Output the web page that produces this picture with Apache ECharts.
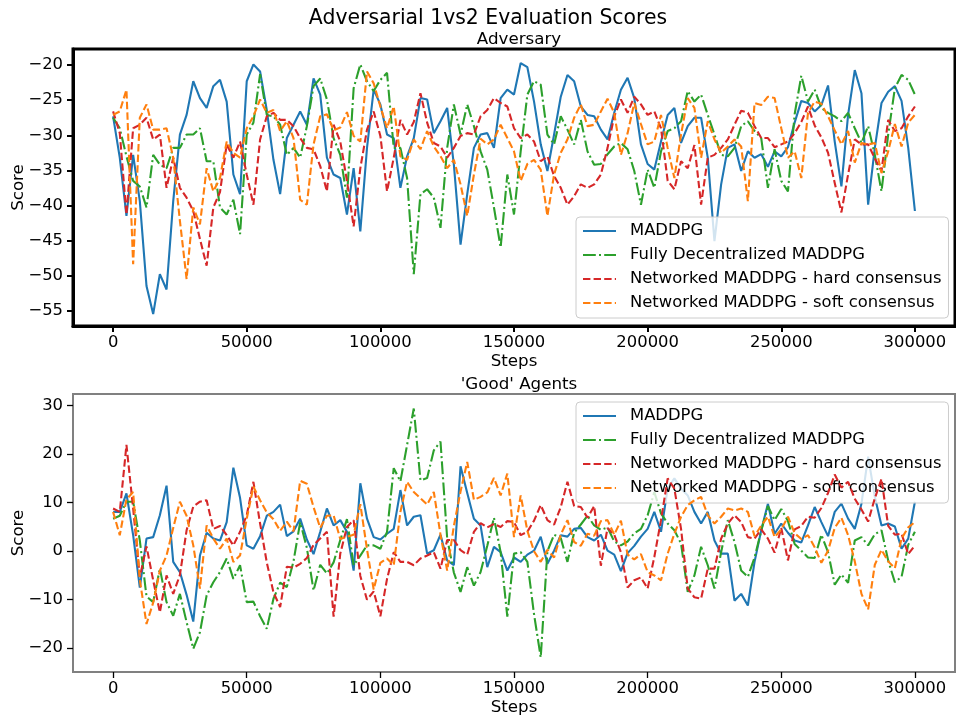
<!DOCTYPE html>
<html>
<head>
<meta charset="utf-8">
<script src="https://cdn.jsdelivr.net/npm/echarts@6/dist/echarts.min.js"></script>
<style>html,body{margin:0;padding:0;background:#fff}#c{width:956px;height:721px}</style>
</head>
<body>
<div id="c"></div>
<script>
const seriesNames = ['MADDPG', 'Fully Decentralized MADDPG', 'Networked MADDPG - hard consensus', 'Networked MADDPG - soft consensus'];
const xTicks = [0, 50000, 100000, 150000, 200000, 250000, 300000];
const advTicks = [-55, -50, -45, -40, -35, -30, -25, -20];
const goodTicks = [-20, -10, 0, 10, 20, 30];
const stepSize = 2500;

const advMaddpg = [
-27.3,-33.2,-41.5,-32.8,-39.4,-51.5,-55.5,-49.8,-52.0,-39.4,
-29.9,-27.1,-22.3,-24.7,-26.1,-23.0,-22.1,-25.2,-35.6,-38.4,
-22.3,-19.9,-20.9,-26.4,-33.5,-38.4,-30.4,-28.5,-26.6,-28.5,
-21.9,-24.2,-33.2,-35.6,-36.1,-41.3,-34.7,-43.7,-31.8,-23.5,
-25.6,-29.9,-30.4,-37.5,-33.0,-30.4,-24.7,-24.9,-29.7,-28.0,
-26.1,-34.2,-45.6,-38.4,-31.8,-29.9,-29.7,-31.8,-24.7,-23.5,
-24.2,-19.7,-20.3,-25.2,-31.3,-35.1,-29.9,-24.5,-21.4,-22.3,
-25.9,-27.1,-27.3,-29.2,-30.6,-26.8,-23.5,-21.8,-24.7,-31.3,
-34.1,-34.9,-30.9,-27.1,-26.1,-31.1,-28.7,-27.5,-27.5,-33.2,
-45.1,-37.0,-31.8,-31.3,-35.1,-32.3,-33.2,-32.7,-34.5,-32.3,
-33.0,-31.7,-28.2,-25.1,-25.4,-26.6,-25.7,-22.9,-30.9,-37.3,
-27.1,-20.7,-24.0,-39.9,-31.8,-25.4,-23.8,-23.0,-25.1,-31.8,-40.8];
const advFullyDec = [
-27.5,-29.0,-33.0,-36.5,-37.3,-40.3,-32.8,-34.2,-34.7,-31.8,
-31.8,-29.9,-29.9,-29.0,-33.7,-33.7,-40.3,-41.3,-39.2,-44.1,
-29.9,-28.2,-21.3,-27.1,-27.3,-28.5,-32.8,-31.8,-33.2,-28.7,
-23.0,-21.9,-24.9,-30.4,-32.8,-38.9,-23.3,-19.9,-22.3,-23.7,
-22.1,-21.1,-31.8,-31.8,-36.1,-49.8,-38.4,-37.7,-38.9,-43.2,
-31.8,-25.6,-29.9,-25.6,-28.7,-32.3,-34.9,-40.3,-46.0,-35.6,
-41.3,-32.3,-24.2,-22.3,-22.8,-29.9,-31.3,-27.3,-29.2,-31.3,
-27.8,-32.3,-34.2,-34.1,-32.7,-31.6,-31.1,-32.0,-35.1,-39.9,
-34.9,-37.5,-32.3,-29.4,-29.0,-28.0,-23.7,-25.2,-24.2,-27.1,
-29.9,-32.8,-33.0,-31.8,-28.7,-28.0,-29.4,-30.4,-37.5,-32.0,
-36.5,-38.0,-27.0,-21.5,-25.2,-23.5,-26.1,-26.8,-27.3,-28.0,
-26.8,-29.0,-31.1,-28.7,-32.8,-38.0,-29.9,-23.3,-21.4,-22.1,-24.2];
const advHard = [
-26.6,-29.7,-41.3,-29.0,-28.5,-27.5,-30.6,-29.9,-37.5,-33.2,
-37.5,-38.9,-40.8,-44.8,-48.6,-40.3,-38.1,-31.3,-33.2,-30.9,
-35.6,-39.9,-30.6,-27.3,-26.8,-27.8,-27.8,-28.7,-30.4,-31.8,
-32.0,-34.4,-38.0,-28.5,-30.9,-36.5,-43.0,-34.7,-29.2,-26.6,
-30.1,-38.0,-33.2,-27.8,-29.9,-28.1,-24.0,-28.2,-31.1,-31.6,
-33.2,-31.8,-30.1,-29.7,-29.9,-27.3,-26.4,-24.7,-25.4,-25.9,
-29.0,-30.4,-29.9,-30.9,-33.7,-33.0,-35.8,-37.5,-39.9,-38.7,
-37.0,-37.5,-37.0,-35.6,-31.8,-27.3,-24.9,-26.8,-24.5,-25.6,
-27.1,-26.6,-29.0,-36.5,-37.7,-33.7,-34.7,-31.4,-39.9,-33.2,
-32.8,-31.8,-30.6,-28.5,-26.5,-26.8,-28.7,-30.4,-30.4,-31.7,
-31.3,-30.9,-29.7,-28.1,-25.9,-28.6,-30.3,-32.5,-36.8,-41.0,
-35.6,-30.6,-31.3,-31.3,-33.3,-35.1,-27.8,-29.4,-29.0,-27.3,-25.9];
const advSoft = [
-27.1,-26.6,-23.5,-48.4,-27.5,-25.6,-29.2,-29.2,-29.0,-33.2,
-42.2,-50.5,-40.3,-42.7,-34.7,-38.0,-36.1,-30.9,-32.5,-33.2,
-29.0,-27.3,-24.9,-26.8,-26.4,-29.4,-28.0,-30.4,-39.2,-39.9,
-31.3,-27.3,-27.0,-29.3,-28.9,-26.7,-30.1,-30.9,-20.9,-22.6,
-25.9,-29.0,-25.9,-33.0,-33.5,-30.6,-32.0,-29.4,-31.6,-33.0,
-34.7,-33.5,-37.0,-41.5,-35.6,-30.5,-31.3,-30.6,-28.5,-30.4,
-32.3,-36.5,-34.1,-33.5,-34.9,-41.5,-35.6,-32.5,-30.6,-27.5,
-25.6,-28.7,-28.5,-26.6,-24.8,-26.8,-32.8,-29.7,-25.4,-28.4,
-31.3,-30.9,-27.1,-31.8,-36.1,-29.9,-24.7,-26.1,-33.2,-28.0,
-30.6,-32.5,-31.6,-30.6,-31.6,-39.4,-25.4,-25.7,-24.5,-24.7,
-29.0,-33.2,-32.3,-36.1,-26.8,-25.2,-25.5,-27.3,-29.3,-31.3,
-29.4,-33.9,-31.1,-31.3,-31.1,-35.4,-32.3,-28.4,-31.6,-28.2,-27.1];

const goodMaddpg = [
8.1,8.1,11.9,3.3,-7.5,2.6,2.9,7.4,13.5,-2.2,
-4.3,-9.0,-14.5,-0.9,3.8,2.6,2.2,6.0,17.2,11.0,
1.2,0.5,3.1,7.3,8.1,9.6,3.1,4.1,6.7,2.4,
-0.6,4.0,8.8,5.3,6.4,4.0,-4.0,14.0,6.7,2.9,
2.4,3.6,4.6,12.6,5.3,7.1,7.4,-0.5,0.2,3.4,
-1.9,-2.9,17.5,12.0,6.7,5.3,-3.3,0.9,-0.2,-4.0,
-1.3,-2.2,-0.7,0.1,3.0,-2.6,0.1,3.3,3.0,4.6,
4.8,2.9,2.2,3.4,0.1,-0.7,-4.1,-0.4,1.1,3.0,
4.6,8.1,4.0,12.9,15.0,12.9,11.5,8.1,5.7,8.1,
2.2,-0.5,-0.5,-10.2,-8.8,-11.2,-2.2,4.3,9.8,3.6,
5.7,3.8,2.2,1.8,5.3,9.1,6.0,3.1,8.1,9.8,
6.7,4.6,9.8,19.5,11.2,5.3,5.7,5.1,0.5,2.6,10.2];
const goodFullyDec = [
6.7,7.3,10.2,10.2,2.2,-9.3,-10.5,-3.6,-10.5,-13.3,
-8.8,-14.6,-20.1,-16.7,-9.1,-6.4,-4.3,-1.5,-5.7,-2.9,
-10.5,-10.4,-13.4,-16.0,-9.8,-6.5,-7.4,-2.1,6.0,0.7,
-8.1,-2.8,-4.6,-2.3,2.3,6.6,-2.9,-0.9,1.2,1.2,
0.5,4.0,17.1,14.4,21.9,29.4,14.6,15.1,20.8,22.6,
2.6,-4.4,-8.4,-3.3,-7.1,-4.3,1.1,6.9,-0.2,-13.5,
-0.5,-0.2,-2.2,-13.0,-21.9,0.0,3.4,2.7,-2.2,3.8,
5.5,7.3,5.3,4.4,4.9,2.0,1.2,2.0,3.7,4.6,
7.4,12.2,7.8,5.7,4.3,1.6,-8.4,-5.0,0.9,-2.9,
-7.7,-0.2,6.4,1.9,-4.0,-5.3,-1.3,4.2,9.3,6.4,
8.7,6.2,1.5,0.1,-1.3,-1.4,3.4,-0.2,-6.9,-4.8,
-6.5,2.2,2.9,1.2,3.5,4.3,-1.9,-6.4,-5.3,1.3,4.0];
const goodHard = [
8.8,8.1,21.9,8.8,-5.3,1.0,-6.0,-12.6,-5.0,-8.8,
-4.9,4.3,9.2,10.2,10.5,4.6,5.2,3.3,1.2,4.0,
7.4,14.3,5.7,-2.3,-8.5,-11.5,-3.2,-3.4,-2.6,-1.4,
1.3,2.6,4.0,-13.5,-0.5,5.0,6.4,-5.1,-10.0,-8.3,
-13.4,-5.7,-0.2,-2.2,-2.2,-2.9,-1.5,-0.9,-0.2,-3.6,
2.3,2.3,0.2,-0.7,4.0,5.8,4.9,5.6,5.0,6.2,
6.0,3.3,4.0,6.3,9.5,6.4,5.5,9.1,14.3,9.3,
9.1,6.9,9.3,-3.0,4.8,3.4,-0.2,-7.5,-6.0,-5.4,
-7.7,-1.2,6.4,15.0,12.9,4.6,-7.7,-9.5,-9.8,-3.6,
-3.6,2.6,5.7,7.4,6.0,2.9,2.6,4.5,2.6,-0.3,
4.8,-1.9,4.5,5.2,7.1,6.9,8.9,12.0,15.8,13.1,
14.3,10.8,8.6,6.1,10.9,14.9,5.2,3.4,3.6,-0.6,1.2];
const goodSoft = [
8.1,3.3,10.7,12.2,-5.9,-15.0,-10.6,-4.0,-0.9,4.8,
10.2,7.3,1.2,-7.7,5.3,2.6,0.5,2.6,-2.2,-0.9,
6.7,13.3,10.5,8.0,6.6,4.2,6.1,4.1,14.5,13.9,
9.1,4.8,7.3,7.4,2.5,3.0,3.4,9.7,0.4,-7.9,
-2.4,-1.5,-2.9,8.1,14.3,12.2,10.9,9.6,12.2,3.4,
-4.0,5.2,12.3,18.4,10.6,11.2,12.1,15.1,11.5,16.0,
2.9,11.5,4.2,0.0,-2.2,0.3,-1.3,3.4,6.4,1.9,
1.1,3.6,3.2,6.2,6.4,3.4,6.3,-0.7,-1.7,-0.6,
-4.3,-5.0,-6.0,-0.5,3.6,7.1,9.5,10.5,11.2,7.4,
5.7,7.1,8.8,8.4,8.8,8.1,3.1,5.3,7.1,2.9,
4.5,7.1,3.7,2.5,3.3,0.8,-2.4,0.1,4.8,6.9,
3.3,-2.1,-8.8,-12.0,-2.8,0.3,-2.1,-3.5,2.6,4.9,6.0];

const steps = advMaddpg.map((_, i) => i * stepSize);
const pairs = vals => vals.map((v, i) => [steps[i], v]);

const colors = ['#1f77b4', '#2ca02c', '#d62728', '#ff7f0e'];
const dashes = ['solid', [12.8, 3.2, 2, 3.2], [7.4, 3.2], [7.4, 3.2]];
const FONT = 'DejaVu Sans';
const minus = v => String(v).replace('-', '\u2212');

function mkSeries(vals, idx, axis) {
  return {
    type: 'line', name: seriesNames[idx], xAxisIndex: axis, yAxisIndex: axis,
    data: pairs(vals), showSymbol: false, symbol: 'none', animation: false,
    lineStyle: { color: colors[idx], width: 2.1, type: dashes[idx] },
    itemStyle: { color: colors[idx] }, z: 2 + idx
  };
}

function xAxisDef(gi, lineCol, lineW, tickCol, tw) {
  return {
    type: 'value', gridIndex: gi, min: -15000, max: 315000,
    name: 'Steps', nameLocation: 'middle', nameGap: 27, nameMoveOverlap: false,
    nameTextStyle: { fontFamily: FONT, fontSize: 16.7, color: '#000' },
    axisLine: { show: true, onZero: false, lineStyle: { color: lineCol, width: lineW } },
    axisTick: { show: true, inside: false, customValues: xTicks, length: 6, lineStyle: { color: tickCol, width: tw } },
    axisLabel: { customValues: xTicks, fontFamily: FONT, fontSize: 16.4, color: '#000', margin: 9,
      formatter: v => String(v) },
    splitLine: { show: false }
  };
}
function yAxisDef(gi, mn, mx, ticks, lineCol, lineW, tickCol, tw) {
  return {
    type: 'value', gridIndex: gi, min: mn, max: mx,
    name: 'Score', nameLocation: 'middle', nameGap: 46, nameRotate: 90, nameMoveOverlap: false,
    nameTextStyle: { fontFamily: FONT, fontSize: 16.7, color: '#000' },
    axisLine: { show: true, onZero: false, lineStyle: { color: lineCol, width: lineW } },
    axisTick: { show: true, inside: false, customValues: ticks, length: 6, lineStyle: { color: tickCol, width: tw } },
    axisLabel: { customValues: ticks, fontFamily: FONT, fontSize: 16.4, color: '#000', margin: 10, formatter: minus },
    splitLine: { show: false }
  };
}
function legendDef(top) {
  return {
    orient: 'vertical', left: 576, top: top, data: seriesNames,
    itemWidth: 33, itemHeight: 12, itemGap: 6,
    itemStyle: { opacity: 0 },
    backgroundColor: 'rgba(255,255,255,0.8)', borderColor: '#cccccc', borderWidth: 1, borderRadius: 4,
    padding: [5, 7, 6, 6],
    textStyle: { fontFamily: FONT, fontSize: 16.4, color: '#000', lineHeight: 18, padding: [0, 0, 0, 9] },
    selectedMode: false
  };
}

const chart = echarts.init(document.getElementById('c'), null, { renderer: 'canvas' });
chart.setOption({
  animation: false,
  backgroundColor: '#fff',
  title: [
    { text: 'Adversarial 1vs2 Evaluation Scores', left: 483, top: 4, textAlign: 'center',
      textStyle: { fontFamily: FONT, fontSize: 20.4, fontWeight: 'normal', color: '#000' } },
    { text: 'Adversary', left: 514, top: 26, textAlign: 'center',
      textStyle: { fontFamily: FONT, fontSize: 16.7, fontWeight: 'normal', color: '#000' } },
    { text: "'Good' Agents", left: 514, top: 371, textAlign: 'center',
      textStyle: { fontFamily: FONT, fontSize: 16.7, fontWeight: 'normal', color: '#000' } }
  ],
  grid: [
    { left: 73, top: 49, width: 882, height: 277, show: true, borderColor: '#000', borderWidth: 3,
      backgroundColor: 'transparent', containLabel: false, outerBoundsMode: 'none' },
    { left: 73, top: 394, width: 882, height: 278, show: true, borderColor: '#808080', borderWidth: 2,
      backgroundColor: 'transparent', containLabel: false, outerBoundsMode: 'none' }
  ],
  xAxis: [xAxisDef(0, '#000', 3, '#000', 2), xAxisDef(1, '#808080', 2, '#000', 1.3)],
  yAxis: [yAxisDef(0, -57.2, -17.7, advTicks, '#000', 3, '#000', 2),
          yAxisDef(1, -24.9, 32.4, goodTicks, '#808080', 2, '#000', 1.3)],
  legend: [legendDef(217), legendDef(402)],
  series: [
    mkSeries(advMaddpg, 0, 0), mkSeries(advFullyDec, 1, 0), mkSeries(advHard, 2, 0), mkSeries(advSoft, 3, 0),
    mkSeries(goodMaddpg, 0, 1), mkSeries(goodFullyDec, 1, 1), mkSeries(goodHard, 2, 1), mkSeries(goodSoft, 3, 1)
  ]
});
</script>
</body>
</html>
